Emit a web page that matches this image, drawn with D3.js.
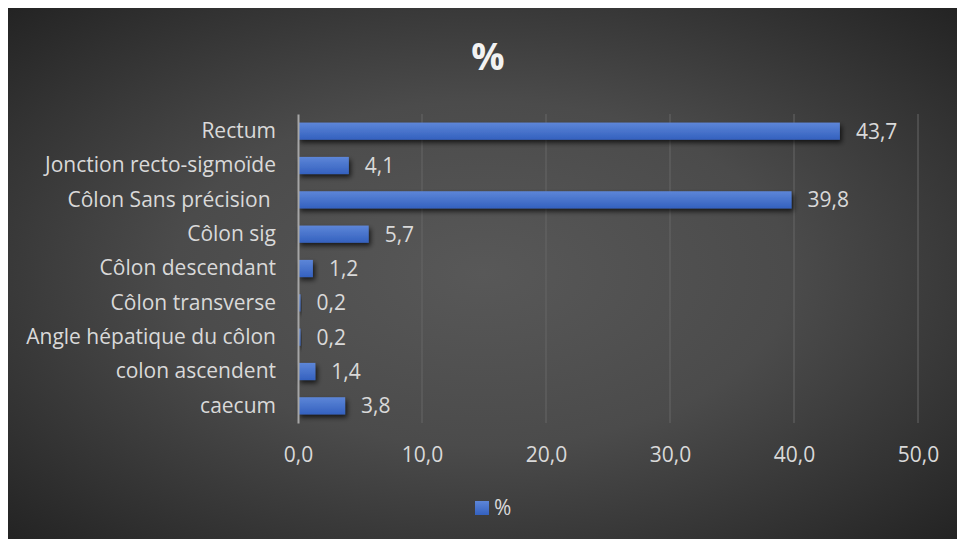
<!DOCTYPE html>
<html>
<head>
<meta charset="utf-8">
<script src="https://cdn.jsdelivr.net/npm/d3@7"></script>
<style>
  body { margin: 0; background: #fff; }
  svg { display: block; }
  text { font-family: "Open Sans", sans-serif; }
</style>
</head>
<body>
<div id="chart"></div>
<script>
var categories = ["Rectum", "Jonction recto-sigmoïde", "Côlon Sans précision ", "Côlon sig",
    "Côlon descendant", "Côlon transverse", "Angle hépatique du côlon", "colon ascendent", "caecum"];
var values = [43.7, 4.1, 39.8, 5.7, 1.2, 0.2, 0.2, 1.4, 3.8];
var xTicks = [0, 10, 20, 30, 40, 50];
var seriesName = "%";
var title = "%";

var svgWidth = 959;
var svgHeight = 539;
var plot = { left: 298, right: 918, top: 114, bottom: 423 };
var font = "'Open Sans', sans-serif";
var fontSize = "21px";

var svg = d3.select("#chart")
    .append("svg")
    .attr("width", svgWidth)
    .attr("height", svgHeight);

var defs = svg.append("defs");

var bg = defs.append("radialGradient")
    .attr("id", "bg")
    .attr("cx", "50%").attr("cy", "50%").attr("r", "72%");
bg.append("stop").attr("offset", "0%").attr("stop-color", "#585858");
bg.append("stop").attr("offset", "45%").attr("stop-color", "#4b4b4b");
bg.append("stop").attr("offset", "100%").attr("stop-color", "#222222");

var barGrad = defs.append("linearGradient")
    .attr("id", "bar")
    .attr("x1", 0).attr("y1", 0).attr("x2", 0).attr("y2", 1);
barGrad.append("stop").attr("offset", "0%").attr("stop-color", "#5d86d8");
barGrad.append("stop").attr("offset", "100%").attr("stop-color", "#3461bf");

var shadow = defs.append("filter")
    .attr("id", "shadow")
    .attr("x", "-20%").attr("y", "-50%").attr("width", "160%").attr("height", "250%");
shadow.append("feDropShadow")
    .attr("dx", 2).attr("dy", 3).attr("stdDeviation", 2.5)
    .attr("flood-color", "#000").attr("flood-opacity", 0.7);

svg.append("rect")
    .attr("x", 8).attr("y", 8)
    .attr("width", svgWidth - 10).attr("height", svgHeight - 8)
    .attr("fill", "url(#bg)");

var xScale = d3.scaleLinear()
    .domain([0, 50])
    .range([plot.left, plot.right]);

var yScale = d3.scaleBand()
    .domain(categories)
    .range([plot.top, plot.bottom])
    .paddingInner(0.5)
    .paddingOuter(0.25);

// gridlines
svg.append("g")
    .selectAll("line")
    .data(xTicks.slice(1))
    .enter()
    .append("line")
    .attr("x1", d => xScale(d)).attr("x2", d => xScale(d))
    .attr("y1", plot.top).attr("y2", plot.bottom)
    .attr("stroke", "#666666")
    .attr("stroke-width", 1);

// x axis tick labels
var bottomAxis = d3.axisBottom(xScale)
    .tickValues(xTicks)
    .tickSize(0)
    .tickPadding(0)
    .tickFormat(d => d3.format(".1f")(d).replace(".", ","));

var xAxis = svg.append("g")
    .attr("transform", `translate(0, ${plot.bottom})`)
    .call(bottomAxis);
xAxis.select(".domain").remove();
xAxis.selectAll("text")
    .attr("y", 39)
    .attr("dy", 0)
    .attr("fill", "#d9d9d9")
    .style("font-size", fontSize)
    .style("font-family", font);

// bars
svg.append("g")
    .selectAll("rect")
    .data(values)
    .enter()
    .append("rect")
    .attr("x", xScale(0))
    .attr("y", (d, i) => yScale(categories[i]))
    .attr("width", d => Math.max(2.5, xScale(d) - xScale(0)))
    .attr("height", yScale.bandwidth())
    .attr("fill", "url(#bar)")
    .attr("filter", "url(#shadow)");

// y axis line and category labels
var leftAxis = d3.axisLeft(yScale).tickSize(0).tickPadding(22);
var yAxis = svg.append("g")
    .attr("transform", `translate(${plot.left}, 0)`)
    .call(leftAxis);
yAxis.select(".domain")
    .attr("stroke", "#a6a6a6")
    .attr("stroke-width", 2);
yAxis.selectAll("text")
    .attr("fill", "#d9d9d9")
    .style("font-size", fontSize)
    .style("font-family", font)
    .style("white-space", "pre");

// value labels
svg.append("g")
    .selectAll("text")
    .data(values)
    .enter()
    .append("text")
    .attr("x", d => xScale(d) + 16)
    .attr("y", (d, i) => yScale(categories[i]) + yScale.bandwidth() / 2)
    .attr("dy", "0.35em")
    .attr("fill", "#d9d9d9")
    .style("font-size", fontSize)
    .text(d => d3.format(".1f")(d).replace(".", ","));

// title
svg.append("text")
    .attr("x", 488)
    .attr("y", 70)
    .attr("text-anchor", "middle")
    .attr("fill", "#f2f2f2")
    .style("font-size", "37px")
    .style("font-weight", "bold")
    .text(title);

// legend
svg.append("rect")
    .attr("x", 475).attr("y", 501)
    .attr("width", 14).attr("height", 14)
    .attr("fill", "url(#bar)");
svg.append("text")
    .attr("x", 494)
    .attr("y", 508)
    .attr("dy", "0.35em")
    .attr("fill", "#d9d9d9")
    .style("font-size", fontSize)
    .text(seriesName);
</script>
</body>
</html>
